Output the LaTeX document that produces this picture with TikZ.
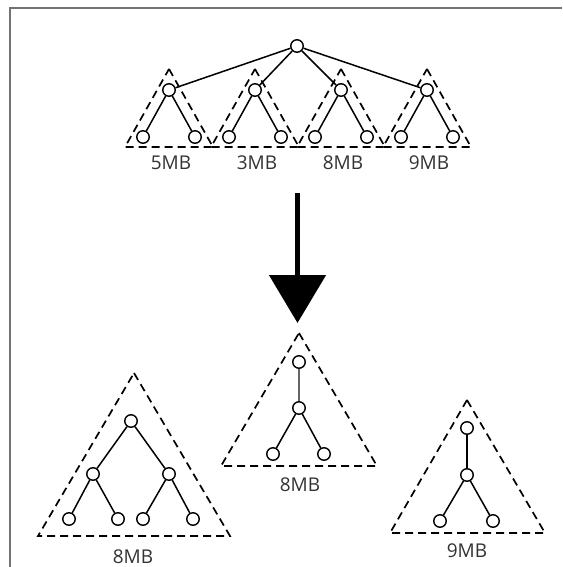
\documentclass[tikz,border=0pt]{standalone}
\usepackage{fontspec}
\setmainfont{Open Sans}
\usetikzlibrary{arrows.meta}
\begin{document}
\begin{tikzpicture}[x=1pt,y=-1pt,
  vtx/.style={circle,draw,line width=1.4pt,minimum size=12.5pt,inner sep=0pt,fill=white},
  edge/.style={line width=1.5pt},
  tri/.style={dash pattern=on 8pt off 5pt,line width=1.7pt},
  lbl/.style={font=\fontsize{19}{21}\selectfont,text=black!80},
  bigarrow/.style={line width=5pt,-{Triangle[length=48pt,width=56pt]}}]
\useasboundingbox (0,0) rectangle (562,567);
\draw[black!55,line width=2pt] (9.5,567) -- (9.5,8.5) -- (562,8.5);

% top tree
\node[vtx] (r) at (297,46) {};
\foreach \i/\x/\t in {1/169/5MB,2/255/3MB,3/341/8MB,4/427/9MB}{
  \draw[tri] (\x,69) -- (\x+44,147) -- (\x-44,147) -- cycle;
  \node[vtx] (s\i) at (\x,90) {};
  \node[vtx] (s\i a) at (\x-26,137) {};
  \node[vtx] (s\i b) at (\x+26,137) {};
  \draw[edge] (s\i) -- (s\i a);
  \draw[edge] (s\i) -- (s\i b);
  \draw[edge] (r) -- (s\i);
  \node[lbl] (t\i) at (\x+2,163) {\t};
}

% arrow
\coordinate (ab) at (297.5,193);
\coordinate (at) at (297.5,323);
\draw[bigarrow] (ab) -- (at);

% bottom-left tree
\draw[tri] (134,373) -- (230,536) -- (38,536) -- cycle;
\node[vtx] (L0) at (131,421) {};
\node[vtx] (L1) at (93,474) {};
\node[vtx] (L2) at (169,474) {};
\node[vtx] (L3) at (69,519) {};
\node[vtx] (L4) at (118,519) {};
\node[vtx] (L5) at (143,519) {};
\node[vtx] (L6) at (193,519) {};
\draw[edge] (L0) -- (L1);
\draw[edge] (L0) -- (L2);
\draw[edge] (L1) -- (L3);
\draw[edge] (L1) -- (L4);
\draw[edge] (L2) -- (L5);
\draw[edge] (L2) -- (L6);
\node[lbl] (tL) at (133,557) {8MB};

% middle tree
\draw[tri] (299,333) -- (377,466) -- (221,466) -- cycle;
\node[vtx] (M0) at (299,362) {};
\node[vtx] (M1) at (299,408) {};
\node[vtx] (M2) at (273,454) {};
\node[vtx] (M3) at (324,454) {};
\draw[edge,black!60] (M0) -- (M1);
\draw[edge] (M1) -- (M2);
\draw[edge] (M1) -- (M3);
\node[lbl] (tM) at (300,485) {8MB};

% right tree
\draw[tri] (467,400) -- (545,533) -- (390,533) -- cycle;
\node[vtx] (R0) at (467,428) {};
\node[vtx] (R1) at (467,475) {};
\node[vtx] (R2) at (440,521) {};
\node[vtx] (R3) at (493,521) {};
\draw[edge] (R0) -- (R1);
\draw[edge] (R1) -- (R2);
\draw[edge] (R1) -- (R3);
\node[lbl] (tR) at (467,551) {9MB};
\end{tikzpicture}
\end{document}
